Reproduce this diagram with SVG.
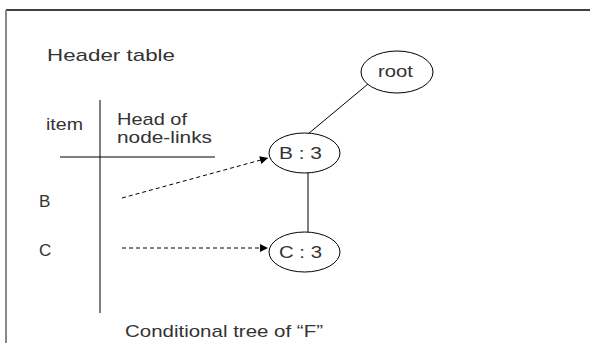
<svg xmlns="http://www.w3.org/2000/svg" width="590" height="343" viewBox="0 0 590 343">
<defs>
<style>
text{font-family:"Liberation Sans",Arial,sans-serif;font-size:17px;fill:#333}
.ln{stroke:#000;stroke-width:1;fill:none}
.dash{stroke:#000;stroke-width:1;stroke-dasharray:4,3;fill:none}
ellipse{fill:#fff;stroke:#000;stroke-width:1}
</style>
<marker id="ah" viewBox="0 0 10 10" refX="10" refY="5" markerWidth="10" markerHeight="8" markerUnits="userSpaceOnUse" orient="auto"><path d="M0,0L10,5L0,10z" fill="#000"/></marker>
</defs>
<rect width="590" height="343" fill="#fff"/>
<g id="frame">
<line x1="6" y1="10" x2="590" y2="10" stroke="#000" stroke-width="1.5"/>
<line x1="6" y1="10" x2="6" y2="343" stroke="#888" stroke-width="2"/>
</g>
<g id="header-table">
<text x="47" y="61" textLength="128" lengthAdjust="spacingAndGlyphs" font-size="19">Header table</text>
<text x="46" y="130" textLength="37" lengthAdjust="spacingAndGlyphs">item</text>
<text x="117" y="125" textLength="70" lengthAdjust="spacingAndGlyphs">Head of</text>
<text x="117" y="143" textLength="95" lengthAdjust="spacingAndGlyphs">node-links</text>
<line class="ln" x1="100" y1="100" x2="100" y2="313"/>
<line class="ln" x1="60" y1="157" x2="215" y2="157"/>
<text x="39" y="207">B</text>
<text x="39" y="256">C</text>
</g>
<g id="connectors">
<line class="ln" x1="368" y1="84" x2="308" y2="134"/>
<line class="ln" x1="308" y1="173" x2="308" y2="232"/>
<line class="dash" x1="122" y1="198" x2="268" y2="158" marker-end="url(#ah)"/>
<line class="dash" x1="122" y1="248" x2="268" y2="248" marker-end="url(#ah)"/>
</g>
<g id="node-root">
<ellipse cx="397" cy="72" rx="36" ry="21"/>
<text x="378" y="77" textLength="35" lengthAdjust="spacingAndGlyphs">root</text>
</g>
<g id="node-B">
<ellipse cx="304.5" cy="153" rx="35.5" ry="20"/>
<text x="279" y="159" textLength="43" lengthAdjust="spacingAndGlyphs">B : 3</text>
</g>
<g id="node-C">
<ellipse cx="304.5" cy="252" rx="35.5" ry="20"/>
<text x="279" y="258" textLength="43" lengthAdjust="spacingAndGlyphs">C : 3</text>
</g>
<text x="125" y="337" textLength="198" lengthAdjust="spacingAndGlyphs">Conditional tree of “F”</text>
</svg>
